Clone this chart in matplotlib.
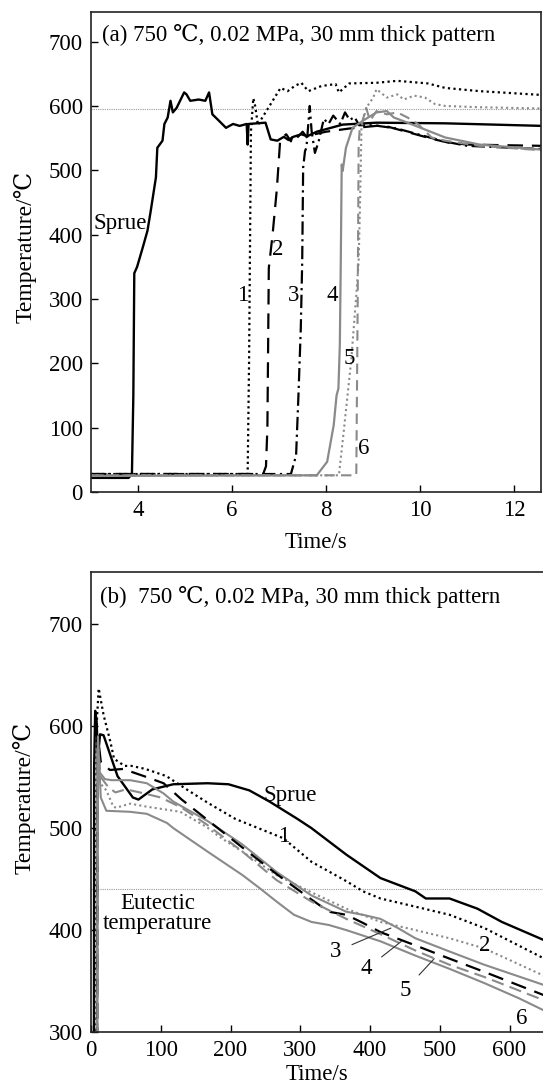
import matplotlib
matplotlib.use("Agg")
import matplotlib.pyplot as plt

plt.rcParams['font.family'] = ['Liberation Serif', 'DejaVu Serif']

# ---- (a) filling stage, time in s ----
sprue_a_t = [3.0, 3.8, 3.87, 3.9, 3.92, 3.98, 4.1, 4.2, 4.27, 4.38, 4.41, 4.52, 4.56, 4.63, 4.69, 4.74,
             4.82, 4.98, 5.03, 5.11, 5.29, 5.43, 5.51, 5.58, 5.72, 5.87, 6.02, 6.16, 6.31, 6.33, 6.35,
             6.71, 6.82, 6.96, 7.1, 7.2, 7.3, 7.47, 7.6, 7.8, 8.35, 9.07, 10.53, 12.6]
sprue_a_T = [22, 22, 28, 150, 340, 350, 380, 406, 437, 489, 535, 546, 572, 582, 608, 590,
             597, 621, 618, 608, 610, 608, 621, 587, 577, 566, 572, 569, 572, 540, 572,
             574, 548, 546, 552, 547, 552, 556, 553, 560, 571, 574, 573, 569]

tc1_a_t = [3.0, 6.33, 6.36, 6.4, 6.45, 6.49, 6.55, 6.6, 6.82, 7.03, 7.18, 7.33, 7.47, 7.62, 7.9,
           8.2, 8.27, 8.49, 9.07, 9.51, 10.16, 10.53, 11.26, 12.6]
tc1_a_T = [28, 28, 200, 560, 612, 600, 570, 577, 603, 628, 623, 631, 636, 623, 631,
           634, 621, 635, 636, 639, 635, 628, 623, 617]

tc2_a_t = [3.0, 6.66, 6.72, 6.75, 6.78, 6.86, 6.95, 7.02, 7.05, 7.15, 7.25, 7.3, 7.4, 7.5, 7.6,
           7.75, 8.0, 8.5, 9.2, 9.7, 10.3, 10.6, 11.0, 12.6]
tc2_a_T = [28, 28, 40, 100, 348, 400, 470, 545, 550, 556, 545, 558, 552, 560, 550,
           556, 560, 565, 570, 560, 548, 543, 540, 538]

tc3_a_t = [3.0, 7.25, 7.36, 7.41, 7.46, 7.49, 7.51, 7.55, 7.58, 7.65, 7.69, 7.76, 7.84, 7.95, 8.05,
           8.15, 8.3, 8.4, 8.5, 8.6, 8.7, 9.0, 9.5, 10.0, 10.5, 11.0, 12.6]
tc3_a_T = [28, 28, 57, 150, 255, 358, 504, 530, 535, 600, 561, 527, 545, 580, 572,
           585, 572, 590, 578, 583, 570, 570, 565, 555, 545, 538, 533]

tc4_a_t = [3.0, 7.8, 8.02, 8.16, 8.22, 8.26, 8.29, 8.31, 8.33, 8.35, 8.42, 8.56, 8.78, 9.07, 9.29,
           9.44, 9.8, 10.53, 11.26, 12.6]
tc4_a_T = [25, 26, 47, 104, 150, 161, 229, 358, 509, 499, 535, 566, 577, 590, 592,
           582, 572, 551, 540, 532]

tc5_a_t = [3.0, 8.27, 8.38, 8.53, 8.64, 8.69, 8.72, 8.75, 8.85, 9.0, 9.07, 9.29, 9.51, 9.65, 9.87,
           10.1, 10.31, 10.53, 11.26, 12.6]
tc5_a_T = [26, 26, 99, 203, 306, 358, 450, 566, 597, 613, 626, 613, 618, 610, 616,
           613, 603, 600, 598, 596]

tc6_a_t = [3.0, 8.64, 8.67, 8.69, 8.71, 8.85, 8.93, 9.07, 9.29, 9.51, 9.73, 9.95, 10.24, 10.53,
           11.26, 12.6]
tc6_a_T = [26, 26, 300, 540, 561, 597, 577, 592, 587, 590, 582, 572, 551, 546, 538, 531]

# ---- (b) solidification stage ----
sprue_b_t = [0, 3.9, 4.5, 6, 8, 10, 13, 18, 38, 60, 68, 88, 118, 167, 197, 227, 256, 296, 316,
             366, 415, 465, 480, 514, 554, 589, 650]
sprue_b_T = [22, 22, 560, 615, 605, 570, 592, 591, 551, 530, 528, 538, 543, 544, 543, 537, 526, 509, 500,
             474, 451, 438, 431, 431, 421, 408, 390]

tc1_b_t = [0, 6.4, 8, 11, 18, 28, 33, 48, 58, 78, 108, 137, 167, 207, 276, 316, 366, 390, 415,
           465, 514, 564, 650]
tc1_b_T = [28, 28, 600, 637, 611, 584, 568, 561, 561, 558, 551, 538, 525, 509, 490, 467, 448, 438, 431,
           423, 415, 402, 372]

tc2_b_t = [0, 6.8, 9, 12, 22, 32, 36, 56, 80, 128, 166, 185, 217, 266, 316, 366, 415, 465, 514, 564, 650]
tc2_b_T = [25, 25, 560, 545, 537, 521, 520, 524, 521, 516, 501, 491, 477, 454, 437, 421, 408, 400, 392, 382, 355]

tc3_b_t = [0, 7.4, 9, 12, 20, 30, 56, 80, 104, 118, 167, 217, 266, 316, 366, 390, 415, 440, 465,
           514, 564, 650]
tc3_b_T = [25, 25, 575, 555, 548, 547, 547, 544, 534, 526, 507, 484, 457, 434, 418, 415, 411, 402, 392,
           379, 366, 346]

tc4_b_t = [0, 8.3, 10, 14, 27, 46, 80, 104, 130, 167, 217, 266, 316, 341, 366, 390, 415, 465, 514, 564, 650]
tc4_b_T = [28, 28, 590, 565, 557, 558, 550, 544, 528, 508, 481, 455, 430, 418, 415, 407, 398, 385, 372, 359, 336]

tc5_b_t = [0, 8.7, 10, 14, 25, 35, 50, 70, 100, 130, 167, 217, 266, 316, 366, 415, 465, 514, 564, 650]
tc5_b_T = [25, 25, 580, 550, 540, 535, 538, 535, 530, 520, 503, 477, 449, 428, 411, 396, 380, 366, 354, 331]

tc6_b_t = [0, 8.7, 10, 14, 22, 56, 80, 109, 118, 167, 217, 242, 266, 291, 316, 341, 366, 415, 465,
           514, 564, 614, 650]
tc6_b_T = [25, 25, 590, 530, 517, 516, 514, 505, 500, 477, 454, 441, 428, 415, 408, 405, 400, 389, 375,
           362, 348, 333, 321]

liquidus_a = 596
eutectic_b = 440

GRAY = '#8a8a8a'
FS = 16.5

fig = plt.figure(figsize=(5.43, 10.91), dpi=100)
ax1 = fig.add_axes([0.1676, 0.549, 0.829, 0.44])
ax2 = fig.add_axes([0.1676, 0.054, 0.8324, 0.4216])


def style(ax, pad):
    ax.tick_params(direction='in', length=5, width=1.0, labelsize=FS, pad=6, right=False, top=False)
    for s in ax.spines.values():
        s.set_linewidth(1.2)
        s.set_color('#222222')
    ax.set_ylabel('Temperature/℃', fontsize=FS + 0.5)
    ax.set_xlabel('Time/s', fontsize=FS, labelpad=pad)
    ax.yaxis.set_label_coords(-0.122, 0.51)


# top panel
ax1.axhline(liquidus_a, color='#999999', lw=0.8, ls=(0, (1, 1)))
ax1.plot(sprue_a_t, sprue_a_T, color='black', lw=1.7)
ax1.plot(tc1_a_t, tc1_a_T, color='black', lw=1.6, ls=(0, (1, 1.5)))
ax1.plot(tc2_a_t, tc2_a_T, color='black', lw=1.6, ls=(0, (7, 4)))
ax1.plot(tc3_a_t, tc3_a_T, color='black', lw=1.6, ls=(0, (6, 2, 1, 2)))
ax1.plot(tc4_a_t, tc4_a_T, color=GRAY, lw=1.6)
ax1.plot(tc5_a_t, tc5_a_T, color=GRAY, lw=1.5, ls=(0, (1, 1.5)))
ax1.plot(tc6_a_t, tc6_a_T, color=GRAY, lw=1.5, ls=(0, (5, 3)))
ax1.set_xlim(3, 12.57)
ax1.set_ylim(0, 746)
ax1.set_xticks([4, 6, 8, 10, 12])
ax1.set_yticks([0, 100, 200, 300, 400, 500, 600, 700])
style(ax1, 8)
ax1.text(0.025, 0.975, '(a) 750 ℃, 0.02 MPa, 30 mm thick pattern', transform=ax1.transAxes,
         fontsize=FS, va='top', ha='left')
ax1.text(3.05, 417, 'Sprue', fontsize=FS, va='center', ha='left')
for lab, x, y in [('1', 6.22, 306), ('2', 6.96, 377), ('3', 7.3, 306), ('4', 8.12, 306),
                  ('5', 8.48, 207), ('6', 8.8, 68)]:
    ax1.text(x, y, lab, fontsize=FS, ha='center', va='center')

# bottom panel
ax2.axhline(eutectic_b, color='#999999', lw=0.8, ls=(0, (1, 1)))
ax2.plot(sprue_b_t, sprue_b_T, color='black', lw=1.7)
ax2.plot(tc1_b_t, tc1_b_T, color='black', lw=1.6, ls=(0, (1, 1.5)))
ax2.plot(tc2_b_t, tc2_b_T, color=GRAY, lw=1.5, ls=(0, (1, 1.5)))
ax2.plot(tc3_b_t, tc3_b_T, color=GRAY, lw=1.5)
ax2.plot(tc4_b_t, tc4_b_T, color='black', lw=1.6, ls=(0, (7, 4)))
ax2.plot(tc5_b_t, tc5_b_T, color=GRAY, lw=1.5, ls=(0, (6, 3)))
ax2.plot(tc6_b_t, tc6_b_T, color=GRAY, lw=1.5)
ax2.set_xlim(0, 648)
ax2.set_ylim(300, 751)
ax2.set_xticks([0, 100, 200, 300, 400, 500, 600])
ax2.set_yticks([300, 400, 500, 600, 700])
style(ax2, 2)
ax2.spines['right'].set_visible(False)
ax2.text(0.02, 0.97, '(b)  750 ℃, 0.02 MPa, 30 mm thick pattern', transform=ax2.transAxes,
         fontsize=FS, va='top', ha='left')
ax2.text(247, 532, 'Sprue', fontsize=FS, va='center', ha='left')
ax2.text(95, 416, 'Eutectic\ntemperature', fontsize=FS, va='center', ha='center',
         multialignment='center', linespacing=0.95)
for lab, x, y in [('1', 276, 492), ('2', 564, 385), ('6', 618, 313)]:
    ax2.text(x, y, lab, fontsize=FS, ha='center', va='center')
for lab, x, y, xe, ye in [('3', 351, 379, 430, 402), ('4', 395, 362, 445, 389),
                          ('5', 450, 341, 492, 372)]:
    ax2.annotate(lab, xy=(xe, ye), xytext=(x, y), fontsize=FS, ha='center', va='center',
                 arrowprops=dict(arrowstyle='-', color='#333333', lw=0.8, shrinkA=6, shrinkB=0))

fig.savefig('out.png', dpi=100)
